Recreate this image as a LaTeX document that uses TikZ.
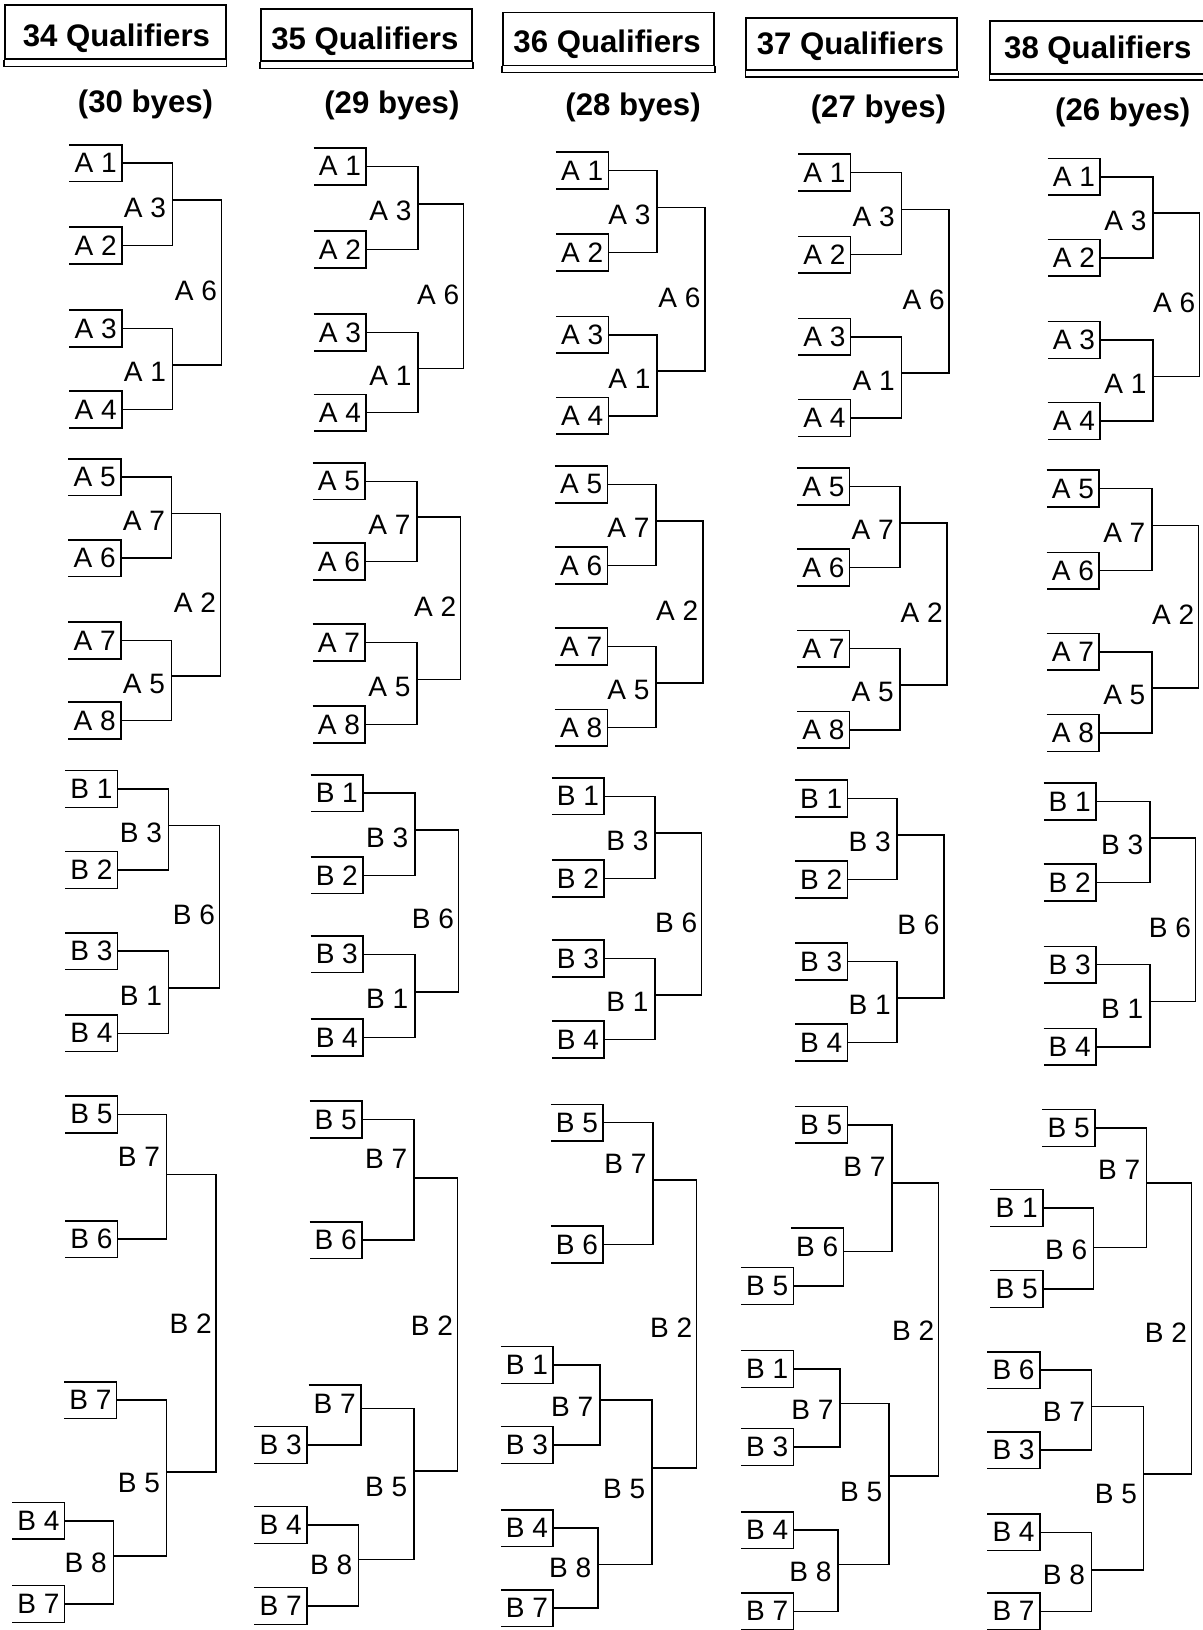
\documentclass[tikz,border=0pt]{standalone}
\usepackage{fontspec}
\setmainfont{Liberation Sans}
\newcommand{\lblfont}{\fontsize{27}{30}\selectfont}
\newcommand{\hdrfont}{\fontsize{30}{34}\selectfont\bfseries}
\tikzset{
  ln/.style={line width=1.5pt},
  slot/.style={inner sep=0pt, minimum width=50pt, minimum height=35pt, font=\lblfont},
  lbl/.style={inner sep=0pt, font=\lblfont},
  hdrbox/.style={draw, line width=1.8pt, inner sep=0pt},
  hdrtxt/.style={inner sep=0pt, text depth=0pt, font=\hdrfont},
  byes/.style={inner sep=0pt, font=\hdrfont},
}
% slot box: open on the left
\newcommand{\slot}[4]{%
  \node[slot] (#1) at ({#2+25},{#3}) {#4};
  \draw[ln] (#1.north west) -- (#1.north east) -- (#1.south east) -- (#1.south west);
}
% result box: top line and right side reaching down to the slot below
\newcommand{\rbox}[5]{%
  \node[slot] (#1) at ({#2+25},{#3}) {#4};
  \draw[ln] (#1.north west) -- (#1.north east) |- (#5.east);
  \coordinate (#1o) at ({#2+50},{#3+5});
}
% bracket: from, to, name, x, y(out), label, label dy, label gap
\newcommand{\brk}[8]{%
  \coordinate (#3) at (#4,#5);
  \draw[ln] (#1) -| (#3) |- (#2);
  \node[lbl, anchor=east] (#3-l) at ({#4-#8},{#5+#7}) {#6};
}
\begin{document}
\begin{tikzpicture}[x=1pt,y=-1pt]
\useasboundingbox (0,0) rectangle (1157,1568);
\fill[white] (0,0) rectangle (1157,1568);

% ---------- headers ----------
\node[hdrbox, minimum width=212pt, minimum height=52pt] (h1) at (111,31) {};
\node[hdrbox, minimum width=203pt, minimum height=50pt] (h2) at (352.5,34) {};
\node[hdrbox, minimum width=203pt, minimum height=51pt] (h3) at (585.5,37.5) {};
\node[hdrbox, minimum width=203pt, minimum height=50pt] (h4) at (819.5,42) {};
\foreach \h in {h1,h2,h3,h4}{
  \draw[ln] (\h.south west) -- ([yshift=-6pt]\h.south west) -- ([yshift=-6pt]\h.south east) -- (\h.south east);
}
\coordinate (h5a) at (952,20);
\coordinate (h5b) at (952,71);
\draw[line width=1.8pt] (1160,20) -- (h5a) -- (h5b) -- (1160,71);
\draw[ln] (h5b) -- ++(0,6) -- (1160,77);

\node[hdrtxt] (t1) at (112,34) {34 Qualifiers};
\node[hdrtxt] (t2) at (351,37) {35 Qualifiers};
\node[hdrtxt] (t3) at (584,40) {36 Qualifiers};
\node[hdrtxt] (t4) at (818,42) {37 Qualifiers};
\node[hdrtxt] (t5) at (1056,45) {38 Qualifiers};

\node[byes] (y1) at (140,100) {(30 byes)};
\node[byes] (y2) at (377,101) {(29 byes)};
\node[byes] (y3) at (609,103) {(28 byes)};
\node[byes] (y4) at (845,105) {(27 byes)};
\node[byes] (y5) at (1080,108) {(26 byes)};

% ---------- standard groups of four ----------
\foreach \pf/\xl/\xa/\xb/\ya/\yb/\yc/\yd/\gl/\na/\nb/\nc/\nd/\ba/\bb/\bc in {
  c1a/67/166/213/157/236/316/394/A/1/2/3/4/3/1/6,
  c1c/66/165/212/459/537/616/693/A/5/6/7/8/7/5/2,
  c1d/63/162/211/759/837/915/994/B/1/2/3/4/3/1/6,
  c2a/302/402/446/160/240/320/397/A/1/2/3/4/3/1/6,
  c2c/301/401/443/463/540/618/697/A/5/6/7/8/7/5/2,
  c2d/299/399/441/763/842/918/998/B/1/2/3/4/3/1/6,
  c3a/535/632/678/164/243/322/400/A/1/2/3/4/3/1/6,
  c3c/534/631/676/466/544/622/700/A/5/6/7/8/7/5/2,
  c3d/531/630/675/766/845/922/1000/B/1/2/3/4/3/1/6,
  c4a/768/867/913/166/245/324/402/A/1/2/3/4/3/1/6,
  c4c/767/866/911/468/546/624/702/A/5/6/7/8/7/5/2,
  c4d/765/863/908/768/846/925/1003/B/1/2/3/4/3/1/6,
  c5a/1008/1109/1154/170/248/327/405/A/1/2/3/4/3/1/6,
  c5c/1007/1108/1153/470/549/627/705/A/5/6/7/8/7/5/2,
  c5d/1004/1106/1150/771/849/928/1007/B/1/2/3/4/3/1/6}{
  \slot{\pf1}{\xl}{\ya}{\gl\ \na}
  \slot{\pf2}{\xl}{\yb}{\gl\ \nb}
  \slot{\pf3}{\xl}{\yc}{\gl\ \nc}
  \slot{\pf4}{\xl}{\yd}{\gl\ \nd}
  \pgfmathsetmacro\mya{(\ya+\yb)/2-4}
  \pgfmathsetmacro\myb{(\yc+\yd)/2-4}
  \pgfmathsetmacro\myc{(\mya+\myb)/2}
  \brk{\pf1.east}{\pf2.east}{\pf m1}{\xa}{\mya}{\gl\ \ba}{7}{6}
  \brk{\pf3.east}{\pf4.east}{\pf m2}{\xa}{\myb}{\gl\ \bb}{7}{6}
  \brk{\pf m1}{\pf m2}{\pf m3}{\xb}{\myc}{\gl\ \bc}{8}{4}
}

% ---------- column 1 bottom ----------
\slot{c1b5}{63}{1072}{B 5}
\slot{c1b6}{63}{1192}{B 6}
\brk{c1b5.east}{c1b6.east}{c1m7}{160}{1130}{B 7}{-17}{6}
\slot{c1b7}{62}{1347}{B 7}
\slot{c1b4x}{12}{1463}{B 4}
\slot{c1b7x}{12}{1543}{B 7}
\brk{c1b4x.east}{c1b7x.east}{c1m8}{109}{1497}{B 8}{6}{6}
\brk{c1b7.east}{c1m8}{c1m5}{160}{1416}{B 5}{11}{6}
\brk{c1m7}{c1m5}{c1m2}{208}{1273}{B 2}{0}{4}

% ---------- column 2 bottom ----------
\slot{c2b5}{298}{1077}{B 5}
\slot{c2b6}{298}{1193}{B 6}
\brk{c2b5.east}{c2b6.east}{c2m7}{398}{1133}{B 7}{-18}{6}
\slot{c2b3x}{245}{1390}{B 3}
\rbox{c2r7}{297}{1350}{B 7}{c2b3x}
\slot{c2b4x}{245}{1467}{B 4}
\slot{c2b7x}{245}{1545}{B 7}
\brk{c2b4x.east}{c2b7x.east}{c2m8}{345}{1500}{B 8}{5}{6}
\brk{c2r7o}{c2m8}{c2m5}{398}{1415}{B 5}{15}{6}
\brk{c2m7}{c2m5}{c2m2}{440}{1275}{B 2}{0}{4}

% ---------- column 3 bottom ----------
\slot{c3b5}{530}{1080}{B 5}
\slot{c3b6}{530}{1197}{B 6}
\brk{c3b5.east}{c3b6.east}{c3m7}{628}{1135}{B 7}{-15}{6}
\slot{c3b1x}{482}{1313}{B 1}
\slot{c3b3x}{482}{1390}{B 3}
\brk{c3b1x.east}{c3b3x.east}{c3m7x}{577}{1347}{B 7}{6}{6}
\slot{c3b4x}{482}{1470}{B 4}
\slot{c3b7x}{482}{1547}{B 7}
\brk{c3b4x.east}{c3b7x.east}{c3m8}{575}{1505}{B 8}{3}{6}
\brk{c3m7x}{c3m8}{c3m5}{627}{1412}{B 5}{20}{6}
\brk{c3m7}{c3m5}{c3m2}{670}{1277}{B 2}{0}{4}

% ---------- column 4 bottom ----------
\slot{c4b5}{765}{1082}{B 5}
\slot{c4b5x}{713}{1237}{B 5}
\rbox{c4r6}{761}{1199}{B 6}{c4b5x}
\brk{c4b5.east}{c4r6o}{c4m7}{858}{1138}{B 7}{-16}{6}
\slot{c4b1x}{713}{1317}{B 1}
\slot{c4b3x}{713}{1392}{B 3}
\brk{c4b1x.east}{c4b3x.east}{c4m7x}{808}{1350}{B 7}{6}{6}
\slot{c4b4x}{713}{1472}{B 4}
\slot{c4b7x}{713}{1550}{B 7}
\brk{c4b4x.east}{c4b7x.east}{c4m8}{806}{1505}{B 8}{7}{6}
\brk{c4m7x}{c4m8}{c4m5}{855}{1420}{B 5}{15}{6}
\brk{c4m7}{c4m5}{c4m2}{903}{1280}{B 2}{0}{4}

% ---------- column 5 bottom ----------
\slot{c5b5}{1003}{1085}{B 5}
\slot{c5b1x}{953}{1162}{B 1}
\slot{c5b5x}{953}{1240}{B 5}
\brk{c5b1x.east}{c5b5x.east}{c5m6}{1052}{1200}{B 6}{2}{6}
\brk{c5b5.east}{c5m6}{c5m7}{1103}{1138}{B 7}{-13}{6}
\slot{c5b6x}{950}{1318}{B 6}
\slot{c5b3x}{950}{1395}{B 3}
\brk{c5b6x.east}{c5b3x.east}{c5m7x}{1050}{1353}{B 7}{5}{6}
\slot{c5b4x}{950}{1474}{B 4}
\slot{c5b7x}{950}{1550}{B 7}
\brk{c5b4x.east}{c5b7x.east}{c5m8}{1050}{1510}{B 8}{5}{6}
\brk{c5m7x}{c5m8}{c5m5}{1100}{1418}{B 5}{19}{6}
\brk{c5m7}{c5m5}{c5m2}{1146}{1282}{B 2}{0}{4}
\end{tikzpicture}
\end{document}
